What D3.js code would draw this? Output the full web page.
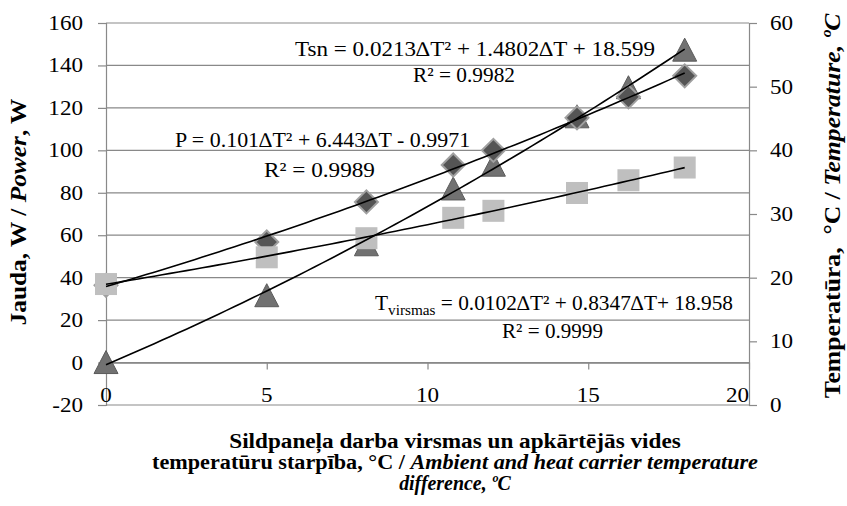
<!DOCTYPE html>
<html>
<head>
<meta charset="utf-8">
<script src="https://cdn.jsdelivr.net/npm/d3@7"></script>
<style>
  body { margin: 0; background: #fff; }
</style>
</head>
<body>
<div id="chart"></div>
<script>
var w = 847;
var h = 506;
var SX = 1.1;   // glyphs in the reference are a bit wider than normal
var fs = 21;
var serif = "'Liberation Serif', 'Times New Roman', Times, serif";

// data
var dT = [0, 5, 8.1, 10.8, 12.05, 14.65, 16.25, 18];
var power = [0, 31.5, 55.5, 81.8, 93, 115.8, 129.5, 147.2];
var tsn = [18.8, 25.6, 31.9, 37.7, 40.0, 45.1, 48.4, 51.7];
var tVirsmas = [19.0, 23.2, 26.2, 29.4, 30.5, 33.3, 35.3, 37.3];

// trendline coefficients (a*x^2 + b*x + c) from the equations on the chart
var pCoef = [0.101, 6.443, -0.9971];
var tsnCoef = [0.0213, 1.4802, 18.599];
var tvCoef = [0.0102, 0.8347, 18.958];

var xTicks = [0, 5, 10, 15, 20];
var yLeftTicks = [-20, 0, 20, 40, 60, 80, 100, 120, 140, 160];
var yRightTicks = [0, 10, 20, 30, 40, 50, 60];

var xScale = d3.scaleLinear().domain([0, 20]).range([106, 749]);
var yLeft = d3.scaleLinear().domain([-20, 160]).range([405, 23]);
var yRight = d3.scaleLinear().domain([0, 60]).range([405, 23]);

var svg = d3.select("#chart").append("svg").attr("width", w).attr("height", h);

function label(x, y, anchor, size, rot) {
  var tr = "translate(" + x + "," + y + ")";
  tr += rot ? " rotate(-90) scale(1," + SX + ")" : " scale(" + SX + ",1)";
  return svg.append("text")
    .attr("data-x", x)
    .attr("data-y", y)
    .attr("transform", tr)
    .attr("text-anchor", anchor)
    .attr("font-family", serif)
    .attr("font-size", size)
    .attr("fill", "#000");
}

// stretch a label so that it spans the same length as in the reference
function fit(sel, len, rot) {
  var w0 = sel.node().getBBox().width;
  var s = len / w0;
  var tr = "translate(" + sel.attr("data-x") + "," + sel.attr("data-y") + ")";
  tr += rot ? " rotate(-90) scale(" + s + "," + SX + ")" : " scale(" + s + ",1)";
  sel.attr("transform", tr);
  return sel;
}

// gridlines
svg.append("g")
  .selectAll("line")
  .data(yLeftTicks)
  .enter()
  .append("line")
  .attr("x1", 106)
  .attr("x2", 749)
  .attr("y1", function (d) { return yLeft(d); })
  .attr("y2", function (d) { return yLeft(d); })
  .attr("stroke", "#898989")
  .attr("stroke-width", 1.2);

// left axis
svg.append("g")
  .attr("transform", "translate(106,0)")
  .call(d3.axisLeft(yLeft).tickValues(yLeftTicks).tickSize(8).tickFormat(""))
  .call(function (g) {
    g.selectAll("line, path").attr("stroke", "#898989").attr("stroke-width", 1.2);
  });

// right axis
svg.append("g")
  .attr("transform", "translate(749,0)")
  .call(d3.axisRight(yRight).tickValues(yRightTicks).tickSize(8).tickFormat(""))
  .call(function (g) {
    g.selectAll("line, path").attr("stroke", "#898989").attr("stroke-width", 1.2);
  });

// x axis on the zero line
svg.append("g")
  .attr("transform", "translate(0," + yLeft(0) + ")")
  .call(d3.axisBottom(xScale).tickValues(xTicks).tickSize(7).tickSizeOuter(0).tickFormat(""))
  .call(function (g) {
    g.selectAll("line, path").attr("stroke", "#898989").attr("stroke-width", 1.2);
  });

// tick labels
yLeftTicks.forEach(function (d) {
  label(83, yLeft(d) + 7, "end", fs).text(d);
});
yRightTicks.forEach(function (d) {
  label(770, yRight(d) + 7, "start", fs).text(d);
});
xTicks.forEach(function (d) {
  var anchor = d === 20 ? "end" : "middle";
  label(xScale(d), 402, anchor, fs).text(d);
});

// markers
var triPath = "M0,-12L12,11L-12,11Z";
var diaPath = "M0,-11.5L11.5,0L0,11.5L-11.5,0Z";

svg.append("g")
  .selectAll("path")
  .data(power)
  .enter()
  .append("path")
  .attr("d", triPath)
  .attr("transform", function (d, i) {
    return "translate(" + xScale(dT[i]) + "," + yLeft(d) + ")";
  })
  .attr("fill", "#717171")
  .attr("stroke", "#5a5a5a")
  .attr("stroke-width", 1);

svg.append("g")
  .selectAll("path")
  .data(tsn)
  .enter()
  .append("path")
  .attr("d", diaPath)
  .attr("transform", function (d, i) {
    return "translate(" + xScale(dT[i]) + "," + yRight(d) + ")";
  })
  .attr("fill", "#555555")
  .attr("stroke", "#a0a0a0")
  .attr("stroke-width", 2);

svg.append("g")
  .selectAll("rect")
  .data(tVirsmas)
  .enter()
  .append("rect")
  .attr("x", function (d, i) { return xScale(dT[i]) - 11; })
  .attr("y", function (d) { return yRight(d) - 11; })
  .attr("width", 22)
  .attr("height", 22)
  .attr("fill", "#bfbfbf");

// trendlines
var xs = d3.range(0, 18.001, 0.25);
function poly(c) {
  return function (x) { return c[0] * x * x + c[1] * x + c[2]; };
}
var trends = [
  { f: poly(pCoef), y: yLeft },
  { f: poly(tsnCoef), y: yRight },
  { f: poly(tvCoef), y: yRight }
];
trends.forEach(function (t) {
  svg.append("path")
    .datum(xs)
    .attr("fill", "none")
    .attr("stroke", "#000")
    .attr("stroke-width", 1.6)
    .attr("d", d3.line()
      .x(function (d) { return xScale(d); })
      .y(function (d) { return t.y(t.f(d)); }));
});

// equations
fit(label(295, 56, "start", fs).text("Tsn = 0.0213\u2206T\u00b2 + 1.4802\u2206T + 18.599"), 360);
fit(label(413, 82, "start", fs).text("R\u00b2 = 0.9982"), 102);
fit(label(175, 147, "start", fs).text("P = 0.101\u2206T\u00b2 + 6.443\u2206T - 0.9971"), 295);
fit(label(264, 177, "start", fs).text("R\u00b2 = 0.9989"), 111);
var tv = label(375, 310, "start", fs);
tv.append("tspan").text("T");
tv.append("tspan").attr("dy", 5).attr("font-size", 15).text("virsmas");
tv.append("tspan").attr("dy", -5).text(" = 0.0102\u2206T\u00b2 + 0.8347\u2206T+ 18.958");
fit(tv, 358);
fit(label(502, 338, "start", fs).text("R\u00b2 = 0.9999"), 101);

// axis titles
var lt = label(26, 212, "middle", fs, true).attr("font-weight", "bold");
lt.append("tspan").text("Jauda, W / ");
lt.append("tspan").attr("font-style", "italic").text("Power");
lt.append("tspan").text(", W");
fit(lt, 227, true);

var rt = label(840, 206, "middle", fs, true).attr("font-weight", "bold");
rt.append("tspan").text("Temperat\u016bra,\u00a0 \u00b0C / ");
rt.append("tspan").attr("font-style", "italic").text("Temperature, \u00baC");
fit(rt, 385, true);

var x1 = label(455, 448, "middle", fs).attr("font-weight", "bold");
x1.text("Sildpane\u013ca darba virsmas un apk\u0101rt\u0113j\u0101s vides");
fit(x1, 452);
var x2 = label(455, 469, "middle", fs).attr("font-weight", "bold");
x2.append("tspan").text("temperat\u016bru starp\u012bba, \u00b0C / ");
x2.append("tspan").attr("font-style", "italic").text("Ambient and heat carrier temperature");
fit(x2, 606);
var x3 = label(455, 490, "middle", fs).attr("font-weight", "bold").attr("font-style", "italic");
x3.text("difference, \u00baC");
fit(x3, 112);
</script>
</body>
</html>
